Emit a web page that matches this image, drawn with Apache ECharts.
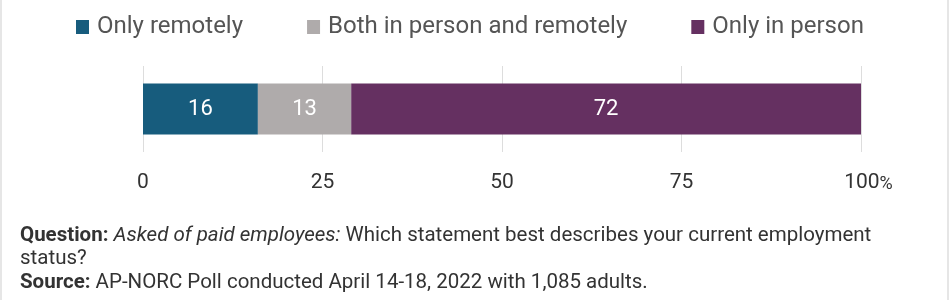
<!DOCTYPE html>
<html>
<head>
<meta charset="utf-8">
<script src="https://cdn.jsdelivr.net/npm/echarts@6/dist/echarts.min.js"></script>
<style>
html,body{margin:0;padding:0;background:#fff;}
#c{width:950px;height:300px;}
</style>
</head>
<body>
<div id="c"></div>
<script>
const categories = ['All'];
const seriesNames = ['Only remotely', 'Both in person and remotely', 'Only in person'];
const onlyRemotely = [16];
const bothValues = [13];
const onlyInPerson = [72];
const tickValues = [0, 25, 50, 75, 100];
const colors = ['#175c7d', '#afabab', '#653061'];

const chart = echarts.init(document.getElementById('c'), null, {renderer: 'canvas'});
const font = 'Roboto, "Noto Sans", sans-serif';
const seriesData = [onlyRemotely, bothValues, onlyInPerson];

const option = {
  animation: false,
  backgroundColor: '#ffffff',
  textStyle: {fontFamily: font},
  legend: {
    top: 10,
    left: 71,
    itemWidth: 13,
    itemHeight: 14,
    itemGap: 64,
    icon: 'rect',
    textStyle: {fontSize: 24, color: '#555555', fontFamily: font, padding: [0, 0, 0, 3]},
    data: seriesNames
  },
  grid: {left: 143, width: 718, top: 66, height: 86, containLabel: false},
  xAxis: {
    type: 'value',
    min: tickValues[0],
    max: tickValues[tickValues.length - 1],
    interval: 25,
    axisLine: {show: false},
    axisTick: {show: false},
    splitLine: {show: true, lineStyle: {color: '#dddddd', width: 1}},
    axisLabel: {
      margin: 20,
      fontSize: 21,
      color: '#333333',
      fontFamily: font,
      formatter: function (v) {
        return v === 100 ? '{n|100}{p|%}' : String(v);
      },
      rich: {
        n: {fontSize: 21, color: '#333333', fontFamily: font, padding: [0, 0, 0, 15]},
        p: {fontSize: 18, color: '#333333', fontFamily: font, verticalAlign: 'bottom'}
      }
    }
  },
  yAxis: {
    type: 'category',
    data: categories,
    axisLine: {show: false},
    axisTick: {show: false},
    axisLabel: {show: false}
  },
  series: seriesNames.map(function (name, i) {
    return {
      name: name,
      type: 'bar',
      stack: 'total',
      data: seriesData[i],
      barWidth: 51,
      itemStyle: {color: colors[i]},
      label: {
        show: true,
        position: 'inside',
        color: '#ffffff',
        fontSize: 22,
        fontFamily: font
      }
    };
  }),
  graphic: [
    {type: 'rect', left: 0, top: 0, shape: {width: 2, height: 300}, style: {fill: '#e6e6e6'}, silent: true},
    {type: 'rect', left: 947, top: 0, shape: {width: 2, height: 300}, style: {fill: '#e6e6e6'}, silent: true},
    {
      type: 'text',
      left: 20,
      top: 224,
      silent: true,
      style: {
        text: '{b|Question:} {i|Asked of paid employees:} Which statement best describes your current employment\n{r|status?}\n{b|Source:} AP-NORC Poll conducted April 14-18, 2022 with 1,085 adults.',
        fontSize: 20.5,
        lineHeight: 23.5,
        fill: '#333333',
        fontFamily: font,
        rich: {
          r: {fontSize: 20.5, lineHeight: 23.5, fill: '#333333', fontFamily: font},
          b: {fontWeight: 'bold', fontSize: 20.5, lineHeight: 23.5, fill: '#333333', fontFamily: font},
          i: {fontStyle: 'italic', fontSize: 20.5, lineHeight: 23.5, fill: '#333333', fontFamily: font}
        }
      }
    }
  ]
};
chart.setOption(option);
</script>
</body>
</html>
